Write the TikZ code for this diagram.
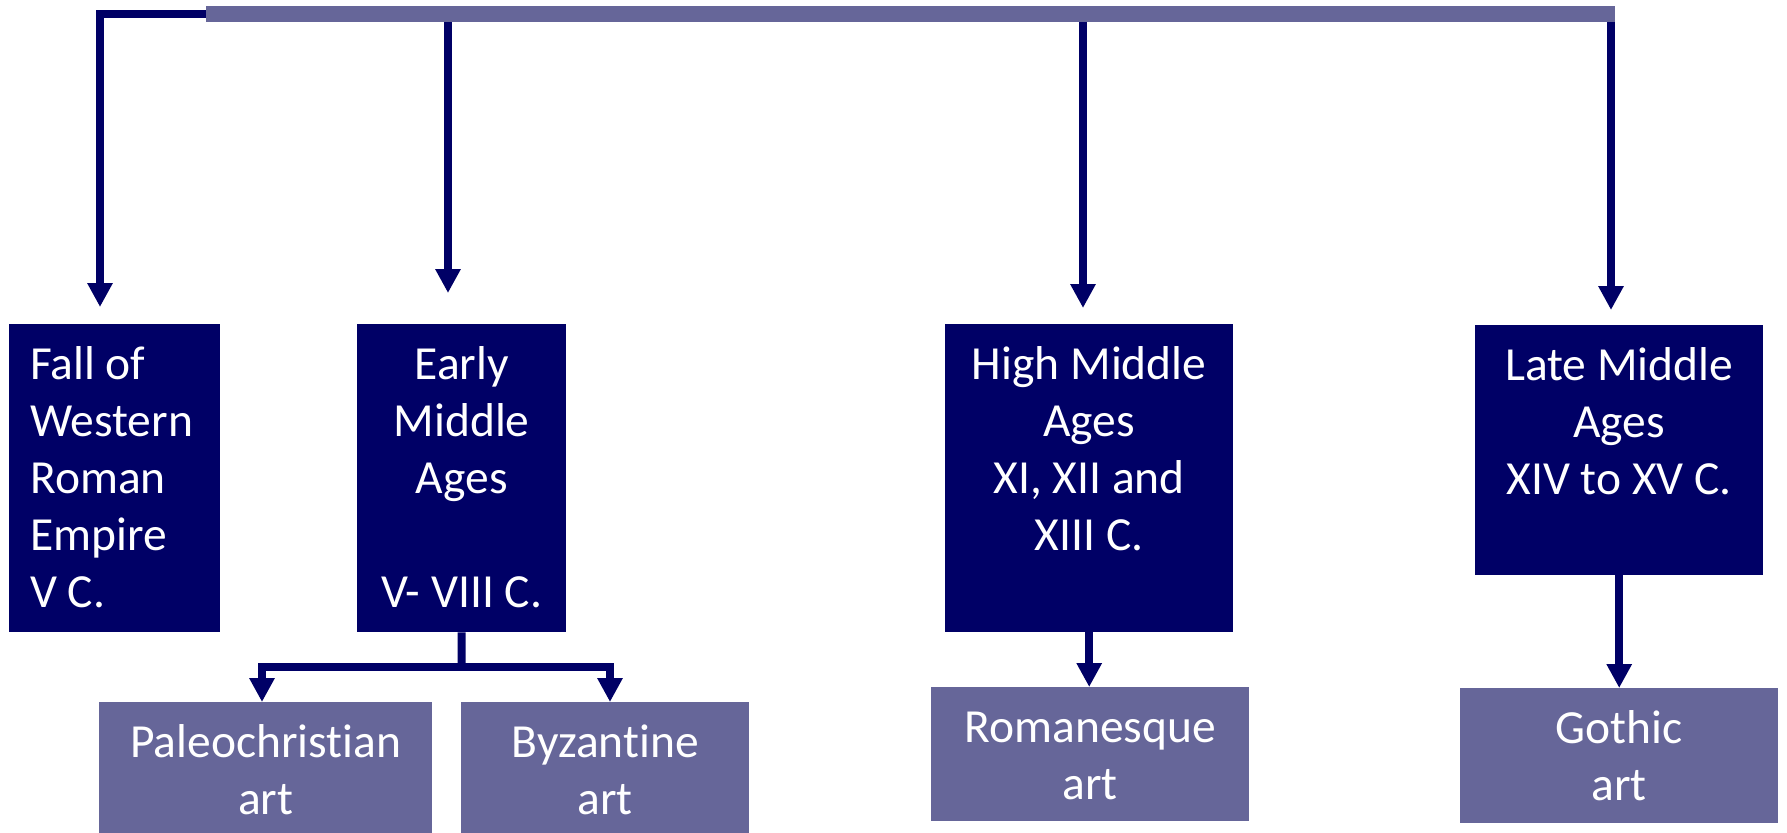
\documentclass[tikz,border=0pt]{standalone}
\usepackage{fontspec}
\setmainfont{Carlito}[Ligatures=CommonOff]
\usetikzlibrary{arrows.meta}
\definecolor{navy}{HTML}{000066}
\definecolor{lav}{HTML}{666699}
\newcommand\boxtxt[4]{\parbox[t][#2bp][t]{#1bp}{\fontsize{47.5bp}{57bp}\selectfont#3\rule{0pt}{55bp}#4}}
\begin{document}
\begin{tikzpicture}[x=1bp,y=-1bp,
  darkbox/.style={fill=navy, inner sep=0pt, text=white, anchor=north west},
  lightbox/.style={fill=lav, inner sep=0pt, text=white, anchor=north west},
  conn/.style={draw=navy, line width=8bp, -{Triangle[width=24bp,length=24bp]}},
  plainline/.style={draw=navy, line width=8bp}]
\useasboundingbox (0,0) rectangle (1787,833);
\fill[white] (0,0) rectangle (1787,833);
% top bar
\node[fill=lav, inner sep=0pt, minimum width=1409bp, minimum height=16bp, anchor=north west] (bar) at (206,6) {};
% period boxes
\node[darkbox] (fall) at (9,324) {\boxtxt{211}{308}{\raggedright\leftskip=21bp}{Fall of\\Western\\Roman\\Empire\\V C.}};
\node[darkbox] (early) at (357,324) {\boxtxt{209}{308}{\centering}{Early\\Middle\\Ages\\\mbox{}\\V- VIII C.}};
\node[darkbox] (high) at (945,324) {\boxtxt{288}{308}{\centering}{High Middle\\Ages\\XI, XII and\\XIII C.}};
\node[darkbox] (late) at (1475,325) {\boxtxt{288}{250}{\centering}{Late Middle\\Ages\\XIV to XV C.}};
% art boxes
\node[lightbox] (paleo) at (99,702) {\boxtxt{333}{131}{\centering}{Paleochristian\\art}};
\node[lightbox] (byz) at (461,702) {\boxtxt{288}{131}{\centering}{Byzantine\\art}};
\node[lightbox] (roman) at (931,687) {\boxtxt{318}{134}{\centering}{Romanesque\\art}};
\node[lightbox] (gothic) at (1460,688) {\boxtxt{318}{135}{\centering}{Gothic\\art}};
% arrow tips from the bar
\coordinate (t1) at (100,307);
\coordinate (t2) at (448,293);
\coordinate (t3) at (1083,308);
\coordinate (t4) at (1611,310);
\draw[conn] (bar.west) -| (t1);
\draw[conn] (bar.south -| t2) -- (t2);
\draw[conn] (bar.south -| t3) -- (t3);
\draw[conn] (bar.south -| t4) -- (t4);
% early split
\coordinate (split) at (461.5,667);
\coordinate (p1) at (262,702);
\coordinate (p2) at (610,702);
\draw[plainline] (early.south) -- (split);
\draw[conn] (split) -| (p1);
\draw[conn] (split) -| (p2);
% lower connectors
\draw[conn] (high.south) -- (high.south |- roman.north);
\draw[conn] (late.south) -- (late.south |- gothic.north);
\end{tikzpicture}
\end{document}
